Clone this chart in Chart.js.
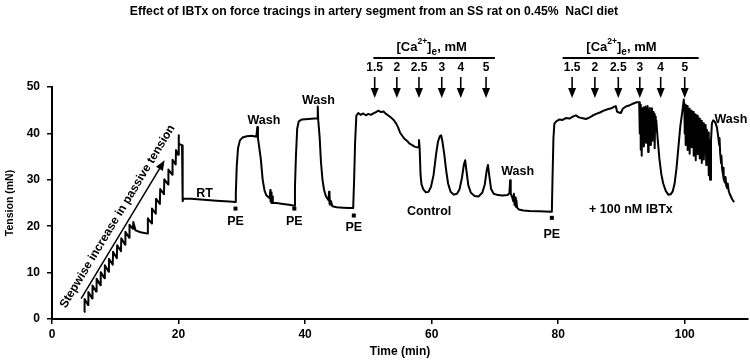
<!DOCTYPE html>
<html>
<head>
<meta charset="utf-8">
<script src="https://cdn.jsdelivr.net/npm/chart.js@4.4.1/dist/chart.umd.min.js"></script>
<style>
  body { margin: 0; background: #fff; }
  canvas { display: block; }
</style>
</head>
<body>
<canvas id="graph" width="750" height="360"></canvas>
<script>
// force tracing, [time (min), tension (mN)], one array per phase
var stretchTrace = [
  [5.1,1.5],[5.15,4.3],[5.7,3.0],[5.75,5.8],[6.35,4.4],[6.4,7.2],[7.0,5.9],[7.05,8.7],
  [7.65,7.3],[7.7,10.1],[8.3,8.8],[8.35,11.6],[8.95,10.2],[9.0,13.0],[9.6,11.7],[9.65,14.5],
  [10.25,13.1],[10.3,15.9],[10.9,14.6],[10.95,17.4],[11.55,16.0],[11.6,18.8],[12.2,17.5],
  [12.25,20.3],[12.8,19.4],[12.85,20.9],[13.2,19.1],[14.0,18.7],[15.1,18.4],
  [15.15,21.7],[15.75,20.6],[15.8,23.8],[16.4,22.7],[16.45,25.9],[17.05,24.8],[17.1,28.0],
  [17.7,26.9],[17.75,30.1],[18.35,29.0],[18.4,32.2],[19.0,31.1],[19.05,34.3],[19.55,33.3],
  [19.6,36.4],[19.95,35.4],[20.0,39.6],[20.07,37.8],[20.55,37.4],[20.65,25.4]
];
var restTrace = [
  [20.8,25.9],[22,25.9],[24,25.7],[26,25.5],[28,25.3],[29.0,25.2]
];
var pe1Trace = [
  [29.05,27],[29.2,33],[29.4,36.8],[29.7,38.5],[30.1,39.1],[30.8,39.4],[31.6,39.5],[32.3,39.3],
  [32.45,41.4],[32.55,39.0],[32.8,36.5],[33.0,34.5],[33.3,30],[33.6,27.6],[33.9,26.6],
  [34.4,26.0],[34.5,27.8],[34.55,25.3],[34.65,27.3],[34.7,25.0],[34.8,26.4],[34.9,25.0],
  [35.5,25.0],[36.5,24.8],[37.5,24.6],[38.3,24.4]
];
var pe2Trace = [
  [38.4,28.5],[38.55,35],[38.75,41],[39.0,42.6],[39.5,43.0],[40.5,43.1],[41.5,43.2],[41.95,43.2],
  [42.0,45.8],[42.08,42.8],[42.3,39.2],[42.5,34],[42.75,30],[43.0,27.8],[43.3,26.4],[43.7,25.6],
  [43.78,27.4],[43.83,24.8],[43.9,26.6],[43.95,24.6],[44.1,25.4],[44.3,24.3],[45.0,24.1],
  [46.0,24.0],[47.0,23.9],[47.6,23.9]
];
var controlTrace = [
  [47.75,30],[47.9,38],[48.1,43.8],[48.4,44.4],[48.8,44.0],[49.2,44.3],[49.6,43.9],[50.0,44.2],
  [50.4,44.0],[50.8,44.3],[51.2,44.6],[51.6,44.9],[52.0,44.6],[52.4,44.7],[52.8,44.2],[53.2,43.8],
  [53.6,43.4],[54.0,42.9],[54.4,42.1],[54.7,41.3],[55.0,40.2],[55.3,39.6],[55.6,39.0],[55.9,38.6],
  [56.2,38.3],[56.5,37.8],[56.8,37.6],[57.1,37.3],[57.4,37.1],[57.7,37.0],[57.9,37.0],[58.0,38.6],
  [58.1,37.0],[58.25,31],[58.4,29],[58.7,27.9],[59.1,27.3],[59.5,27.4],[59.9,28.5],[60.3,31],
  [60.7,35.5],[61.0,38.2],[61.3,39.4],[61.5,39.6],[61.7,38.3],[62.0,35.5],[62.3,32],[62.6,29.2],
  [63.0,27.4],[63.5,26.8],[64.0,27.0],[64.4,27.9],[64.8,30.5],[65.1,33.3],[65.3,34.2],[65.5,32],
  [65.8,28.8],[66.2,27.2],[66.8,26.5],[67.4,26.4],[68.0,27.2],[68.4,29],[68.7,32],[68.9,33.2],
  [69.1,31],[69.4,28],[69.8,27.0],[70.5,26.7],[71.2,26.6],[72.0,26.7],[72.3,27.2],[72.4,29.9],
  [72.5,27.0],[72.7,26.4],[72.9,25.4],[73.0,27.0],[73.1,24.6],[73.2,26.2],[73.3,24.2],[73.4,25.6],
  [73.5,24.0],[73.8,23.6],[74.5,23.4],[75.5,23.3],[77.0,23.2],[78.9,23.1]
];
var ibtxTrace = [
  [79.0,23.2],[79.1,30],[79.25,39],[79.4,42.1],[79.7,42.6],[80.2,43.0],[80.7,42.9],[81.2,43.3],
  [81.8,43.2],[82.3,43.6],[82.8,43.9],[83.2,43.5],[83.7,43.3],[84.4,43.1],[84.9,43.4],[85.4,43.8],
  [86.0,44.2],[86.6,44.5],[87.2,44.9],[87.8,45.2],[88.4,45.4],[88.8,45.7],[89.1,45.9],[89.3,44.7],
  [89.6,44.5],[89.9,44.4],[90.2,45.3],[90.7,45.8],[91.2,46.0],[91.8,46.4],[92.4,46.7],[92.8,46.7],
  [92.9,40],[93.0,46.2],[93.05,36.5],[93.15,45.4],[93.2,35.2],[93.3,44.8],[93.38,39.5],[93.46,45.6],
  [93.55,37.2],[93.63,44.6],[93.7,40.5],[93.8,45.8],[93.88,38],[93.96,45.2],[94.05,41],[94.13,45.9],
  [94.22,36],[94.3,44.9],[94.4,40.2],[94.48,45.5],[94.56,37.5],[94.65,44.6],[94.74,41.5],[94.82,45.4],
  [94.9,38.4],[95.0,44.6],[95.08,39.8],[95.17,44.2],[95.25,36.8],[95.33,43.6],[95.42,40.5],[95.5,42.8],
  [95.7,39.2],[96.0,34.5],[96.3,31.2],[96.6,29.2],[97.0,27.6],[97.4,26.8],[97.8,26.9],[98.1,27.5],
  [98.4,29.2],[98.7,32.5],[99.0,37],[99.3,41.5],[99.6,44.5],[99.85,47.3],
  [99.95,45.5],[100.0,40],[100.08,46.2],[100.15,37.5],[100.23,45.6],[100.3,41],[100.38,45.9],
  [100.46,36.4],[100.54,44.8],[100.62,39.5],[100.7,45.3],[100.78,35.6],[100.86,44.4],[100.94,40.2],
  [101.02,44.9],[101.1,37],[101.18,44.2],[101.26,38.8],[101.34,44.6],[101.42,35.2],[101.5,43.7],
  [101.58,39],[101.66,44.1],[101.74,34.2],[101.82,43.5],[101.9,38.2],[101.98,43.8],[102.06,35.5],
  [102.14,42.9],[102.22,37.4],[102.3,43.2],[102.38,34.6],[102.46,42.4],[102.54,36.8],[102.62,42.7],
  [102.7,33.6],[102.78,41.9],[102.86,36.2],[102.94,42.2],[103.02,34.4],[103.1,41.5],[103.2,35.8],
  [103.3,41.8],[103.4,33.2],[103.5,40.8],[103.6,35],[103.7,40.2],[103.8,31],[103.9,38.5],[104.0,30]
];
var washTrace = [
  [104.15,38.5],[104.3,42.2],[104.5,42.8],[104.7,42.6],[104.9,42.1],[105.1,41.2],[105.3,39.2],
  [105.45,37.5],[105.5,39.0],[105.6,35.8],[105.75,33.6],[105.8,35.2],[105.9,32.4],[106.05,31.2],
  [106.1,32.6],[106.2,30.2],[106.35,29.4],[106.45,30.6],[106.55,28.8],[106.7,28.2],[106.8,29.2],
  [106.95,27.6],[107.1,27.0],[107.3,26.4],[107.5,25.8],[107.8,25.2]
];

// annotation content
var caLevels = ['1.5', '2', '2.5', '3', '4', '5'];
var caTimesControl = [51, 54.5, 58, 61.6, 64.6, 68.6];
var caTimesIbtx = [82.2, 85.8, 89.5, 92.9, 96.2, 100];
var peTimes = [29, 38.3, 47.7, 79.0];

var FONT = '"Liberation Sans", Arial, sans-serif';

var trace = [].concat(stretchTrace, restTrace, pe1Trace, pe2Trace, controlTrace, ibtxTrace, washTrace)
  .map(function (p) { return { x: p[0], y: p[1] }; });

// draws the text labels, arrows and markers around the trace
var annotate = {
  id: 'annotate',
  afterDatasetsDraw: function (chart) {
    var ctx = chart.ctx;
    var x = chart.scales.x, y = chart.scales.y;
    ctx.save();
    ctx.fillStyle = '#000';
    ctx.strokeStyle = '#000';
    ctx.textAlign = 'center';
    ctx.textBaseline = 'middle';

    ctx.font = 'bold 12.2px ' + FONT;
    ctx.fillText('Effect of IBTx on force tracings in artery segment from an SS rat on 0.45%  NaCl diet', 374, 12);

    function label(txt, t, v, size) {
      ctx.font = 'bold ' + (size || 12.5) + 'px ' + FONT;
      ctx.fillText(txt, x.getPixelForValue(t), y.getPixelForValue(v));
    }
    label('RT', 24.1, 27.1);
    label('Wash', 33.5, 42.8);
    label('Wash', 42.1, 47.1);
    label('Wash', 73.6, 31.7);
    label('Wash', 107.3, 43.0);
    label('Control', 59.6, 23.1);
    label('+ 100 nM IBTx', 91.5, 23.6);

    // PE markers
    var peDot = [23.8, 23.8, 22.3, 21.8];
    var peText = [21.0, 21.0, 19.7, 18.3];
    peTimes.forEach(function (t, i) {
      var px = x.getPixelForValue(t);
      ctx.fillRect(px - 2, y.getPixelForValue(peDot[i]) - 2, 4, 4);
      label('PE', t, peText[i]);
    });

    // calcium additions
    function caGroup(times, t0, t1, tc) {
      var a = x.getPixelForValue(t0), b = x.getPixelForValue(t1);
      ctx.lineWidth = 2;
      ctx.beginPath(); ctx.moveTo(a, 58); ctx.lineTo(b, 58); ctx.stroke();
      // [Ca2+]e, mM
      var cx = x.getPixelForValue(tc);
      var big = 'bold 13px ' + FONT, small = 'bold 8.5px ' + FONT;
      ctx.font = big; var w1 = ctx.measureText('[Ca').width;
      ctx.font = small; var w2 = ctx.measureText('2+').width;
      ctx.font = big; var w3 = ctx.measureText(']').width;
      ctx.font = small; var w4 = ctx.measureText('e').width + 1;
      ctx.font = big; var w5 = ctx.measureText(', mM').width;
      var sx = cx - (w1 + w2 + w3 + w4 + w5) / 2;
      ctx.textAlign = 'left';
      ctx.font = big; ctx.fillText('[Ca', sx, 47); sx += w1;
      ctx.font = small; ctx.fillText('2+', sx, 42); sx += w2;
      ctx.font = big; ctx.fillText(']', sx, 47); sx += w3;
      ctx.font = 'bold 10px ' + FONT; ctx.fillText('e', sx, 52); sx += w4;
      ctx.font = big; ctx.fillText(', mM', sx, 47);
      ctx.textAlign = 'center';
      times.forEach(function (t, i) {
        var px = x.getPixelForValue(t);
        ctx.font = 'bold 12px ' + FONT;
        ctx.fillText(caLevels[i], px, 68);
        ctx.lineWidth = 1.6;
        ctx.beginPath(); ctx.moveTo(px, 77); ctx.lineTo(px, 90); ctx.stroke();
        ctx.beginPath(); ctx.moveTo(px - 4, 88); ctx.lineTo(px + 4, 88); ctx.lineTo(px, 98); ctx.closePath(); ctx.fill();
      });
    }
    caGroup(caTimesControl, 50.8, 70.0, 60);
    caGroup(caTimesIbtx, 80.7, 102.2, 90);

    // passive tension arrow and rotated caption
    var ax0 = x.getPixelForValue(4.6), ay0 = y.getPixelForValue(4.4);
    var ax1 = x.getPixelForValue(17.8), ay1 = y.getPixelForValue(34.2);
    var ang = Math.atan2(ay1 - ay0, ax1 - ax0);
    ctx.lineWidth = 1.5;
    ctx.beginPath(); ctx.moveTo(ax0, ay0); ctx.lineTo(ax1 - 8 * Math.cos(ang), ay1 - 8 * Math.sin(ang)); ctx.stroke();
    ctx.save();
    ctx.translate(ax1, ay1); ctx.rotate(ang);
    ctx.beginPath(); ctx.moveTo(0, 0); ctx.lineTo(-10, -4); ctx.lineTo(-10, 4); ctx.closePath(); ctx.fill();
    ctx.restore();
    ctx.save();
    ctx.translate(x.getPixelForValue(10.35), y.getPixelForValue(22.1));
    ctx.rotate(ang);
    ctx.font = 'bold 12px ' + FONT;
    ctx.fillText('Stepwise increase in passive tension', 0, 0);
    ctx.restore();

    ctx.restore();
  }
};

var axisFont = { family: FONT, weight: 'bold', size: 12 };

new Chart(document.getElementById('graph').getContext('2d'), {
  type: 'line',
  data: {
    datasets: [{
      data: trace,
      borderColor: '#000',
      borderWidth: 2,
      borderJoinStyle: 'round',
      pointRadius: 0,
      tension: 0,
      fill: false
    }]
  },
  options: {
    responsive: false,
    animation: false,
    layout: { padding: { top: 87, right: 2, left: 0, bottom: 0 } },
    plugins: { legend: { display: false }, tooltip: { enabled: false } },
    scales: {
      x: {
        type: 'linear', min: 0, max: 110,
        ticks: { stepSize: 20, includeBounds: false, padding: 3, color: '#000', font: axisFont, maxRotation: 0 },
        grid: { drawOnChartArea: false, drawTicks: true, tickLength: 5, color: '#000', lineWidth: 1.5 },
        border: { color: '#000', width: 2 },
        title: { display: true, text: 'Time (min)', color: '#000', font: axisFont, padding: { top: 0, bottom: 1 } },
        afterFit: function (s) { s.height = 41; }
      },
      y: {
        min: 0, max: 50,
        ticks: { stepSize: 10, padding: 7, color: '#000', font: axisFont },
        grid: { drawOnChartArea: false, drawTicks: true, tickLength: 5, color: '#000', lineWidth: 1.5 },
        border: { color: '#000', width: 2 },
        title: { display: true, text: 'Tension (mN)', color: '#000', font: { family: FONT, weight: 'bold', size: 10.5 }, padding: { top: 4, bottom: 0 } },
        afterFit: function (s) { s.width = 52; }
      }
    }
  },
  plugins: [annotate]
});
</script>
</body>
</html>
